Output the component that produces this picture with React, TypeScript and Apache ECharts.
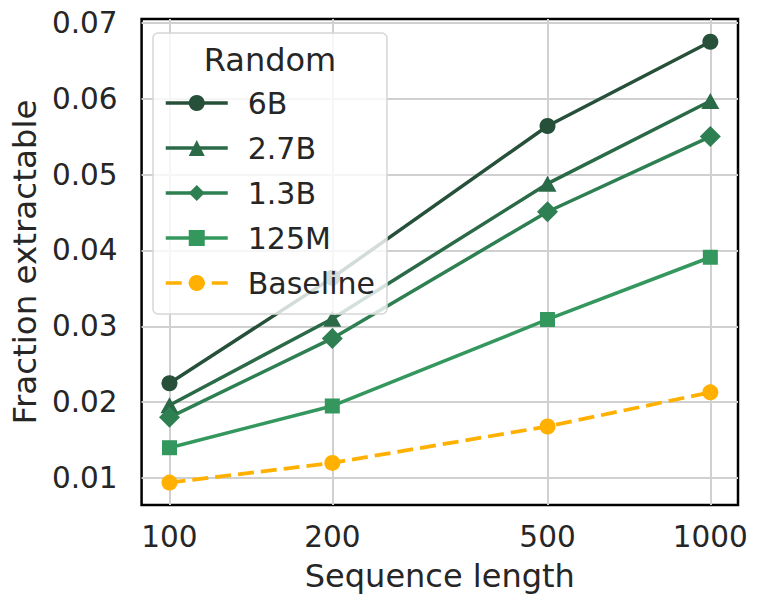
import React, { useEffect, useRef } from "react";
import * as echarts from "echarts";

const lengths = [100, 200, 500, 1000];
const xTicks = [100, 200, 500, 1000];
const yTicks = [0.01, 0.02, 0.03, 0.04, 0.05, 0.06, 0.07];

const names = ["6B", "2.7B", "1.3B", "125M", "Baseline"];
const s6B = [0.0225, 0.0364, 0.0564, 0.0675];
const s27B = [0.0196, 0.031, 0.0488, 0.0597];
const s13B = [0.018, 0.0284, 0.0451, 0.055];
const s125M = [0.014, 0.0195, 0.0309, 0.0391];
const baseline = [0.0094, 0.012, 0.0168, 0.0213];

const colors = ["#26503a", "#2b6a47", "#2e7f51", "#34975e", "#ffb000"];
const FONT = "DejaVu Sans";
const TXT = "#262626";
const GRID = "#d0d0d0";

export default function App() {
  const ref = useRef<HTMLDivElement>(null);
  useEffect(() => {
    const chart = echarts.init(ref.current!, null, { renderer: "svg" });
    const mk = (name: string, vals: number[], color: string, symbol: string, size: any, extra: any = {}) => ({
      name,
      type: "line",
      data: lengths.map((x, i) => [x, vals[i]]),
      symbol,
      symbolSize: size,
      showSymbol: true,
      itemStyle: { color },
      lineStyle: { color, width: 3.5 },
      emphasis: { disabled: true },
      z: 3,
      ...extra,
    });
    const option: any = {
      animation: false,
      textStyle: { fontFamily: FONT },
      grid: {
        left: 138,
        right: 23,
        top: 19,
        bottom: 102,
        show: true,
        borderColor: "#000",
        borderWidth: 2.5,
        backgroundColor: "transparent",
      },
      xAxis: {
        type: "log",
        logBase: 10,
        min: 88.8,
        max: 1125,
        axisLine: { show: false },
        axisTick: { show: false },
        axisLabel: { show: false },
        splitLine: { show: false },
        minorSplitLine: { show: false },
        name: "Sequence length",
        nameLocation: "middle",
        nameGap: 55,
        nameTextStyle: { fontSize: 32, color: TXT, fontFamily: FONT },
      },
      yAxis: {
        type: "value",
        min: 0.00645,
        max: 0.0705,
        axisLine: { show: false },
        axisTick: { show: false, customValues: yTicks },
        axisLabel: {
          customValues: yTicks,
          formatter: (v: number) => v.toFixed(2),
          fontSize: 29.5,
          color: TXT,
          fontFamily: FONT,
          margin: 24,
        },
        splitLine: { show: true, lineStyle: { color: GRID, width: 2 } },
        name: "Fraction extractable",
        nameLocation: "middle",
        nameGap: 92,
        nameTextStyle: { fontSize: 32.5, color: TXT, fontFamily: FONT },
      },
      legend: {
        data: names,
        orient: "vertical",
        left: 153,
        top: 33,
        padding: [55, 12, 16, 11],
        itemWidth: 62,
        itemHeight: 20,
        itemGap: 15,
        backgroundColor: "rgba(255,255,255,0.8)",
        borderColor: "#d6d6d6",
        borderWidth: 1.5,
        borderRadius: 5,
        selectedMode: false,
        lineStyle: { width: 3.5 },
        textStyle: {
          fontSize: 30,
          color: TXT,
          fontFamily: FONT,
          lineHeight: 28,
          padding: [0, 0, 0, 15],
        },
      },
      graphic: [
        {
          type: "text",
          x: 270,
          y: 60,
          z: 10,
          style: {
            text: "Random",
            fontSize: 32,
            fill: TXT,
            fontFamily: FONT,
            align: "center",
            verticalAlign: "middle",
          },
        },
      ],
      series: [
        mk(names[0], s6B, colors[0], "circle", 16),
        mk(names[1], s27B, colors[1], "triangle", [18, 16]),
        mk(names[2], s13B, colors[2], "diamond", [21, 21]),
        mk(names[3], s125M, colors[3], "rect", 15),
        mk(names[4], baseline, colors[4], "circle", 16, {
          lineStyle: { color: colors[4], width: 3.75, type: [16, 7] },
          markLine: {
            silent: true,
            symbol: "none",
            z: 1,
            animation: false,
            lineStyle: { color: GRID, width: 2, type: "solid" },
            label: {
              show: true,
              position: "start",
              distance: 17,
              formatter: (p: any) => String(p.value),
              fontSize: 29.5,
              color: TXT,
              fontFamily: FONT,
            },
            emphasis: { disabled: true },
            data: xTicks.map((v) => ({ xAxis: v })),
          },
        }),
      ],
    };
    chart.setOption(option);
    return () => chart.dispose();
  }, []);
  return (
    <div
      ref={ref}
      style={{ position: "absolute", left: 0, top: 0, width: 761, height: 607 }}
    />
  );
}
